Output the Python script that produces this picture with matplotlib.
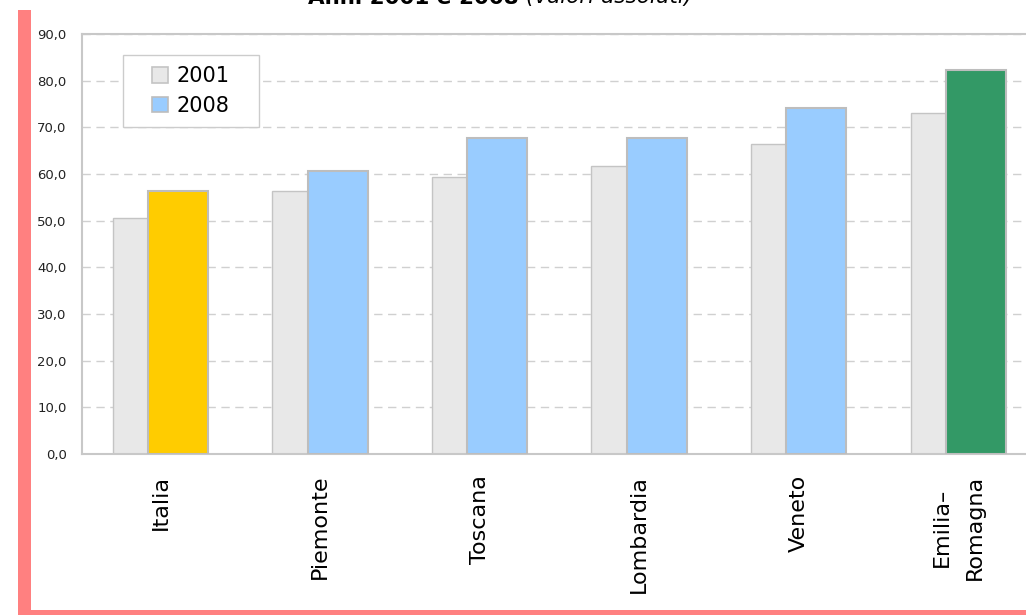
import matplotlib.pyplot as plt
import numpy as np
from matplotlib.patches import Rectangle

categorie = ['Italia', 'Piemonte', 'Toscana', 'Lombardia', 'Veneto', 'Emilia–\nRomagna']
valori_2001 = [50.6, 56.4, 59.4, 61.7, 66.4, 73.1]
valori_2008 = [56.4, 60.7, 67.7, 67.7, 74.1, 82.3]
colori_2008 = ['#FFCC00', '#99CCFF', '#99CCFF', '#99CCFF', '#99CCFF', '#339966']
y_ticks = [0, 10, 20, 30, 40, 50, 60, 70, 80, 90]

W, H = 1026, 615
fig = plt.figure(figsize=(W / 100, H / 100), dpi=100)
fig.patch.set_facecolor('white')

# cornice rosa a sinistra e in basso
fig.patches.append(Rectangle((18 / W, 0), 13 / W, 1 - 10 / H, transform=fig.transFigure,
                             facecolor='#FF8080', edgecolor='none'))
fig.patches.append(Rectangle((18 / W, 0), 1, 5.5 / H, transform=fig.transFigure,
                             facecolor='#FF8080', edgecolor='none'))

ax = fig.add_axes([82 / W, 1 - 454 / H, (W - 82) / W, (454 - 34) / H])

x = np.arange(len(categorie))
ax.bar(x - 0.298, valori_2001, width=0.37, align='edge', color='#E8E8E8',
       edgecolor='#C4C4C4', linewidth=1.0, zorder=2, label='2001')
ax.bar(x - 0.078, valori_2008, width=0.376, align='edge', color=colori_2008,
       edgecolor='#BDBDBD', linewidth=1.5, zorder=3)

ax.set_xlim(-0.492, 5.426)
ax.set_ylim(0, 90)
ax.set_yticks(y_ticks)
ax.set_yticklabels([f'{v:.1f}'.replace('.', ',') for v in y_ticks], fontsize=9.5,
                   family='DejaVu Sans', color='#222222')
ax.yaxis.grid(True, linestyle=(0, (6, 4)), color='#D0D0D0', linewidth=1.0, zorder=0)
ax.tick_params(axis='y', length=0, pad=11)

ax.set_xticks(x)
ax.set_xticklabels(categorie, rotation=90, fontsize=16, family='DejaVu Sans',
                   linespacing=1.8, va='top', ha='center')
ax.tick_params(axis='x', length=0, pad=15)

for s in ['left', 'bottom', 'top']:
    ax.spines[s].set_color('#C8C8C8')
    ax.spines[s].set_linewidth(1.5)
ax.spines['right'].set_visible(False)

# legenda: riquadro disegnato a parte per avere il margine largo ai lati
ax.add_patch(Rectangle((123 / W, 1 - 127 / H), 136 / W, 72 / H,
                       transform=fig.transFigure, facecolor='white',
                       edgecolor='#CCCCCC', linewidth=1.0, zorder=5, clip_on=False))
h1 = Rectangle((0, 0), 1, 1, facecolor='#E8E8E8', edgecolor='#C4C4C4', linewidth=1.2)
h2 = Rectangle((0, 0), 1, 1, facecolor='#99CCFF', edgecolor='#BDBDBD', linewidth=1.2)
leg = ax.legend([h1, h2], ['2001', '2008'], loc='center',
                bbox_to_anchor=(191 / W, 1 - 91 / H), bbox_transform=fig.transFigure,
                prop={'family': 'DejaVu Sans', 'size': 15}, frameon=False,
                handlelength=0.75, handleheight=0.75, handletextpad=0.45,
                borderpad=0, labelspacing=0.45, borderaxespad=0)
leg.set_zorder(6)

# titolo tagliato in alto
t1 = fig.text(308 / W, 1 - 3.5 / H, 'Anni 2001 e 2008 ', fontsize=15.5, fontweight='bold',
              family='DejaVu Sans', ha='left', va='baseline')
fig.canvas.draw()
bb = t1.get_window_extent()
fig.text(bb.x1 / W, 1 - 3.5 / H, '(valori assoluti)', fontsize=15.5, style='italic',
         family='DejaVu Sans', ha='left', va='baseline')

fig.savefig('out.png', dpi=100)
